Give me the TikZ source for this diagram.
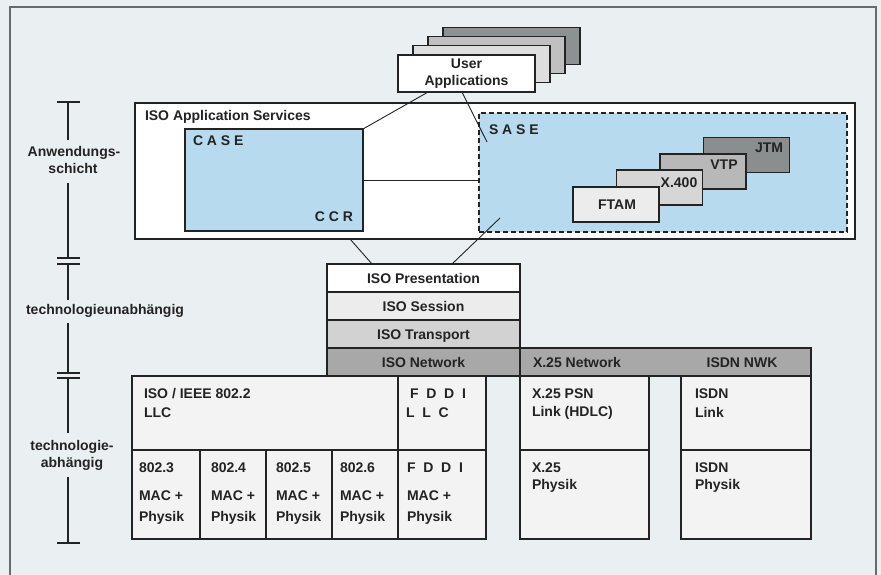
\documentclass[tikz,border=0pt]{standalone}
\usepackage{fontspec}
\setmainfont{Liberation Sans}
\usetikzlibrary{calc}
\definecolor{paper}{RGB}{234,239,242}
\definecolor{lblue}{RGB}{183,218,238}
\definecolor{ink}{RGB}{35,35,35}
\definecolor{framec}{RGB}{105,105,105}
\definecolor{cellc}{RGB}{243,243,243}
\definecolor{sessc}{RGB}{236,236,236}
\definecolor{transc}{RGB}{210,210,210}
\definecolor{netc}{RGB}{168,168,168}
\definecolor{uab}{RGB}{222,222,222}
\definecolor{uac}{RGB}{192,192,192}
\definecolor{uad}{RGB}{140,146,146}
\definecolor{ftamc}{RGB}{236,236,236}
\definecolor{xfc}{RGB}{214,214,214}
\definecolor{vtpc}{RGB}{184,184,184}
\definecolor{jtmc}{RGB}{138,142,142}
\tikzset{
  box/.style={draw=ink, line width=1.5pt, inner sep=0pt, outer sep=0pt},
  lbl/.style={font=\fontsize{14}{17}\selectfont\bfseries, text=ink, inner sep=0pt, outer sep=0pt},
  rowtxt/.style={font=\fontsize{14}{17}\selectfont\bfseries, text=ink, text height=10.5pt, text depth=0pt},
  conn/.style={draw=ink, line width=0.9pt},
  scaleline/.style={draw=ink, line width=1.5pt}
}
\begin{document}
\begin{tikzpicture}[x=1pt,y=-1pt]
\fill[paper] (0,0) rectangle (881,575);
\useasboundingbox (0,0) rectangle (881,575);
\draw[framec, line width=1.3pt] (10,590) -- (10,7) -- (876,7) -- (876,590);

% scale on the left
\draw[scaleline] (57,102) -- (80,102);
\draw[scaleline] (68,102) -- (68,140);
\node[lbl, anchor=base] (anw1) at (74,157) {Anwendungs-};
\node[lbl, anchor=base] (anw2) at (73,173) {schicht};
\draw[scaleline] (68,183) -- (68,258);
\draw[scaleline] (57,258) -- (80,258);
\draw[scaleline] (57,264) -- (80,264);
\draw[scaleline] (68,264) -- (68,300);
\node[lbl, anchor=base] (tun) at (105,314) {technologieunabhängig};
\draw[scaleline] (68,323) -- (68,373);
\draw[scaleline] (57,373) -- (80,373);
\draw[scaleline] (57,378) -- (80,378);
\draw[scaleline] (68,378) -- (68,433);
\node[lbl, anchor=base] (tab1) at (72,450) {technologie-};
\node[lbl, anchor=base] (tab2) at (72,467) {abhängig};
\draw[scaleline] (68,477) -- (68,543);
\draw[scaleline] (57,543) -- (80,543);

% application services
\node[box, fill=white, minimum width=720pt, minimum height=136pt] (aps) at (495,171) {};
\node[lbl, anchor=base west] (apst) at (145,121) {ISO Application Services};
\node[box, fill=lblue, minimum width=178pt, minimum height=102pt] (case) at (274,180) {};
\node[lbl, anchor=base west] (caset) at (193,146) {C A S E};
\node[lbl, anchor=base east] (ccrt) at (353,221) {C C R};
\node[box, fill=lblue, dash pattern=on 5pt off 3pt, minimum width=368pt, minimum height=119pt] (sase) at (663,172.5) {};
\node[lbl, anchor=base west] (saset) at (489,135) {S A S E};

% SASE members
\node[box, fill=jtmc, minimum width=86pt, minimum height=35pt] (jtm) at (746.5,155) {};
\node[lbl, anchor=base] (jtmt) at (769,153) {JTM};
\node[box, fill=vtpc, minimum width=86pt, minimum height=35pt] (vtp) at (703,171.5) {};
\node[lbl, anchor=base] (vtpt) at (724,170) {VTP};
\node[box, fill=xfc, minimum width=86pt, minimum height=35pt] (xf) at (659.5,187.5) {};
\node[lbl, anchor=base] (xft) at (679,187) {X.400};
\node[box, fill=ftamc, minimum width=86pt, minimum height=35pt] (ftam) at (616,204.5) {};
\node[lbl, anchor=base] (ftamt) at (617,209) {FTAM};

% user applications stack
\node[box, fill=uad, minimum width=137pt, minimum height=37pt] (ua4) at (511.5,46) {};
\node[box, fill=uac, minimum width=137pt, minimum height=37pt] (ua3) at (496.5,55) {};
\node[box, fill=uab, minimum width=137pt, minimum height=37pt] (ua2) at (481.5,64) {};
\node[box, fill=white, minimum width=137pt, minimum height=37pt, align=center,
      font=\fontsize{14}{16.5}\selectfont\bfseries, text=ink] (ua1) at (466.5,73.5) {User\\Applications};

% ISO stack
\node[box, fill=white, rowtxt, minimum width=193pt, minimum height=28pt] (pres) at (423.5,278) {ISO Presentation};
\node[box, fill=sessc, rowtxt, minimum width=193pt, minimum height=28pt] (sess) at (423.5,306) {ISO Session};
\node[box, fill=transc, rowtxt, minimum width=193pt, minimum height=28pt] (trans) at (423.5,334) {ISO Transport};
\node[box, fill=netc, rowtxt, minimum width=193pt, minimum height=28pt] (netw) at (423.5,362) {ISO Network};
\node[box, fill=netc, minimum width=291pt, minimum height=28pt] (wan) at (665.5,362) {};
\node[lbl, anchor=base west] (x25n) at (533,367) {X.25 Network};
\node[lbl, anchor=base] (isdnn) at (742,367) {ISDN NWK};

% LAN block
\node[box, fill=cellc, minimum width=266pt, minimum height=74pt] (llc) at (265,413) {};
\node[box, fill=cellc, minimum width=88pt, minimum height=74pt] (fllc) at (442,413) {};
\node[box, fill=cellc, minimum width=68pt, minimum height=89pt] (m3) at (166,494.5) {};
\node[box, fill=cellc, minimum width=66pt, minimum height=89pt] (m4) at (233,494.5) {};
\node[box, fill=cellc, minimum width=66pt, minimum height=89pt] (m5) at (299,494.5) {};
\node[box, fill=cellc, minimum width=66pt, minimum height=89pt] (m6) at (365,494.5) {};
\node[box, fill=cellc, minimum width=88pt, minimum height=89pt] (mf) at (442,494.5) {};

\node[lbl, anchor=base west] (llc1) at (144,398) {ISO / IEEE 802.2};
\node[lbl, anchor=base west] (llc2) at (144,417) {LLC};
\node[lbl, anchor=base west] (fl1) at (410,398) {F~~D~~D~~I};
\node[lbl, anchor=base west] (fl2) at (406,417) {L~~L~~C};

\node[lbl, anchor=base west] (m3a) at (139,472) {802.3};
\node[lbl, anchor=base west] (m3b) at (139,500) {MAC +};
\node[lbl, anchor=base west] (m3c) at (139,521) {Physik};
\node[lbl, anchor=base west] (m4a) at (211,472) {802.4};
\node[lbl, anchor=base west] (m4b) at (211,500) {MAC +};
\node[lbl, anchor=base west] (m4c) at (211,521) {Physik};
\node[lbl, anchor=base west] (m5a) at (276,472) {802.5};
\node[lbl, anchor=base west] (m5b) at (276,500) {MAC +};
\node[lbl, anchor=base west] (m5c) at (276,521) {Physik};
\node[lbl, anchor=base west] (m6a) at (340,472) {802.6};
\node[lbl, anchor=base west] (m6b) at (340,500) {MAC +};
\node[lbl, anchor=base west] (m6c) at (340,521) {Physik};
\node[lbl, anchor=base west] (mfa) at (407,472) {F~~D~~D~~I};
\node[lbl, anchor=base west] (mfb) at (407,500) {MAC +};
\node[lbl, anchor=base west] (mfc) at (407,521) {Physik};

% X.25 block
\node[box, fill=cellc, minimum width=129pt, minimum height=74pt] (x25l) at (584.5,413) {};
\node[box, fill=cellc, minimum width=129pt, minimum height=89pt] (x25p) at (584.5,494.5) {};
\node[lbl, anchor=base west] (x25a) at (532,398) {X.25 PSN};
\node[lbl, anchor=base west] (x25b) at (532,416) {Link (HDLC)};
\node[lbl, anchor=base west] (x25c) at (532,472) {X.25};
\node[lbl, anchor=base west] (x25d) at (532,489) {Physik};

% ISDN block
\node[box, fill=cellc, minimum width=130pt, minimum height=74pt] (isdnl) at (746,413) {};
\node[box, fill=cellc, minimum width=130pt, minimum height=89pt] (isdnp) at (746,494.5) {};
\node[lbl, anchor=base west] (isa) at (695,398) {ISDN};
\node[lbl, anchor=base west] (isb) at (695,417) {Link};
\node[lbl, anchor=base west] (isc) at (695,472) {ISDN};
\node[lbl, anchor=base west] (isd) at (695,489) {Physik};

% connectors
\coordinate (uaL) at ($(ua1.south west)!0.22!(ua1.south east)$);
\coordinate (uaR) at ($(ua1.south west)!0.467!(ua1.south east)$);
\coordinate (saseIn) at ($(sase.north west)+(8,29)$);
\coordinate (apsB) at ($(aps.south west)+(215,0)$);
\coordinate (saseB) at ($(sase.south west)+(21,-14)$);
\coordinate (presL) at ($(pres.north west)+(45,0)$);
\coordinate (presR) at ($(pres.north west)+(125,0)$);
\draw[conn] (uaL) -- (case.north east);
\draw[conn] (uaR) -- (saseIn);
\draw[conn] (case.east) -- (case.east -| sase.west);
\draw[conn] (apsB) -- (presL);
\draw[conn] (saseB) -- (presR);
\end{tikzpicture}
\end{document}
